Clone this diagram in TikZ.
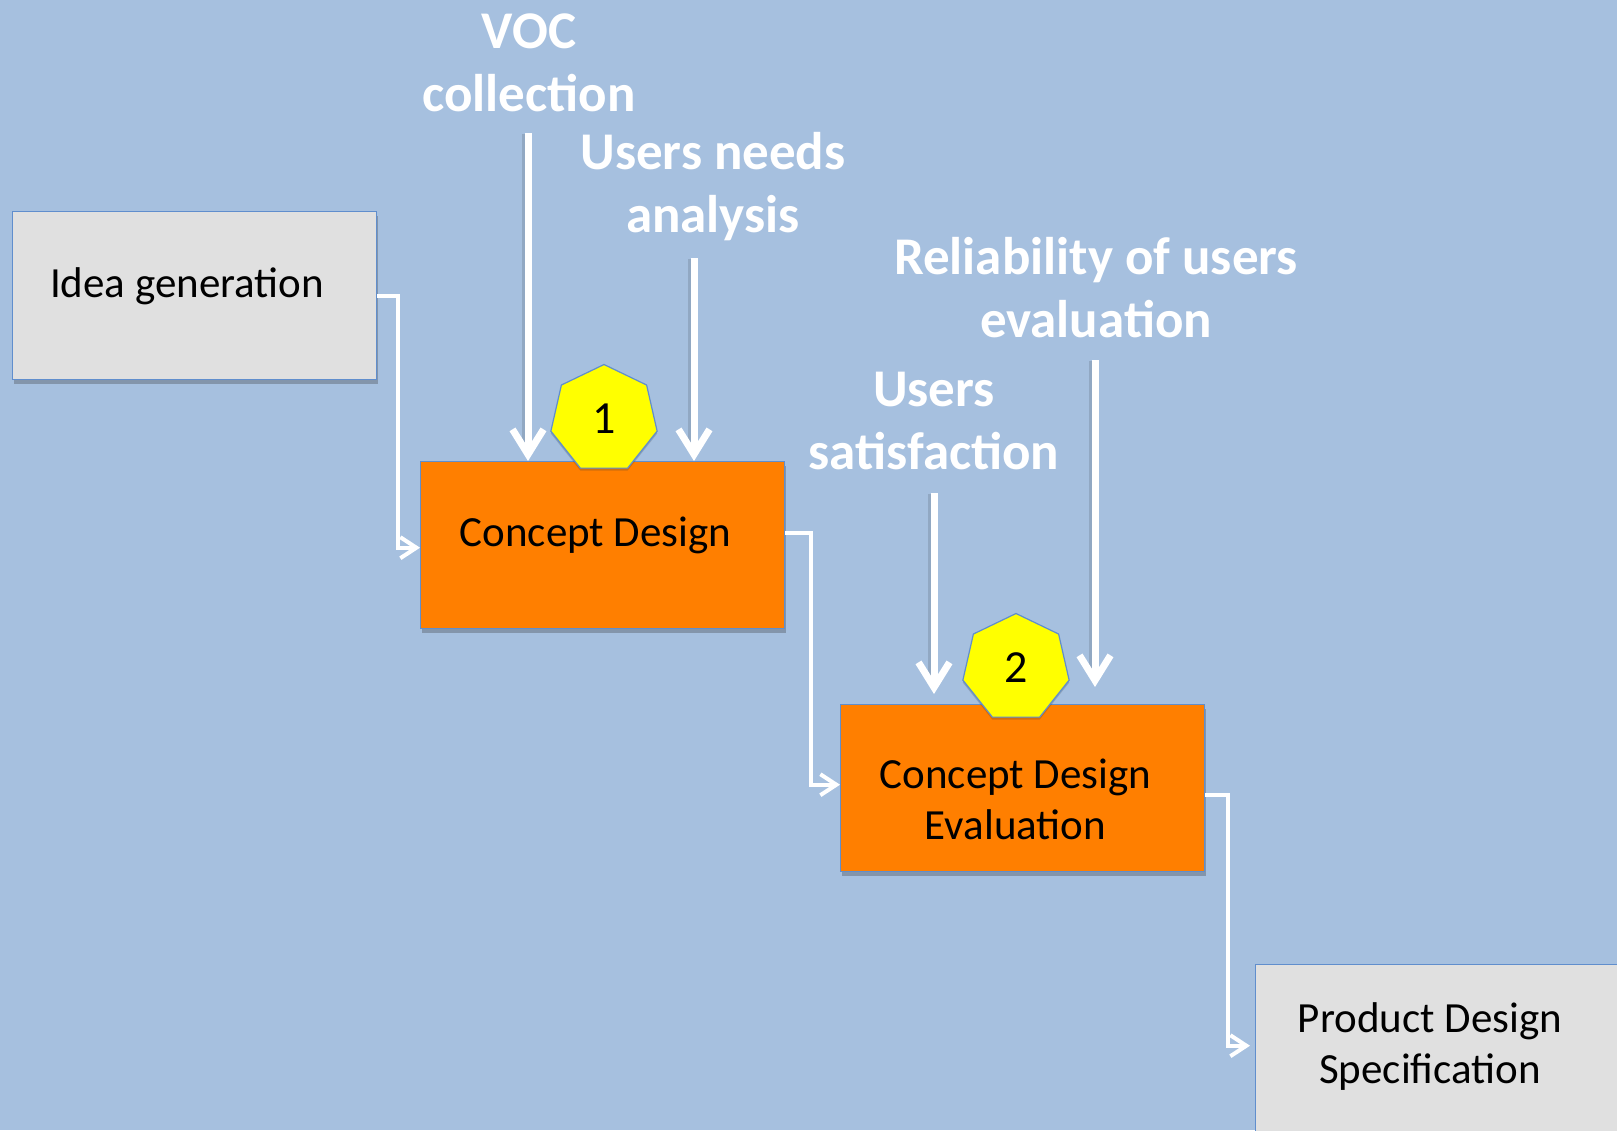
\documentclass[tikz,border=0pt]{standalone}
\usepackage{fontspec}
\setmainfont{Carlito}
\usetikzlibrary{shapes.geometric,arrows.meta,shadows}

\definecolor{bgblue}{RGB}{166,192,223}
\definecolor{boxorange}{RGB}{255,127,0}
\definecolor{boxgray}{RGB}{224,224,224}
\definecolor{edgeblue}{RGB}{96,142,205}
\definecolor{tagyellow}{RGB}{255,255,0}

\begin{document}
\begin{tikzpicture}[x=1pt,y=-1pt,
  stagebox/.style={draw=edgeblue, line width=1.4pt, inner sep=0pt,
    anchor=north west,
    drop shadow={shadow xshift=1pt, shadow yshift=-4pt, opacity=0.3, fill=black!80}},
  graybox/.style={stagebox, fill=boxgray},
  orangebox/.style={stagebox, fill=boxorange},
  boxtext/.style={font=\fontsize{43}{50.5}\selectfont, text=black, inner sep=0pt,
    align=center, anchor=base},
  inputlabel/.style={font=\fontsize{53}{63}\selectfont\bfseries, text=white,
    inner sep=0pt, align=center, anchor=base},
  tag/.style={regular polygon, regular polygon sides=7, minimum size=109pt,
    inner sep=0pt, fill=tagyellow, draw=edgeblue, line width=1.2pt,
    font=\fontsize{46}{50}\selectfont, text=black,
    drop shadow={shadow xshift=0pt, shadow yshift=-2.5pt, opacity=0.22, fill=black!80}},
  flow/.style={draw=white, line width=4pt,
    -{Straight Barb[length=16pt, width=21pt, line width=4pt]}},
  feed/.style={draw=white, line width=7pt,
    -{Straight Barb[length=25pt, width=31pt, line width=7pt]}},
  feedshade/.style={draw=black, opacity=0.12, line width=8pt},
]
\useasboundingbox (0,0) rectangle (1617,1130);
\clip (0,0) rectangle (1617,1130);
\fill[bgblue] (0,0) rectangle (1617,1130);

% process stages
\node[graybox, minimum width=364pt, minimum height=168pt] (idea) at (12,211) {};
\node[orangebox, minimum width=364pt, minimum height=167pt] (cd) at (420,461) {};
\node[orangebox, minimum width=364pt, minimum height=167pt] (ev) at (840,704) {};
\node[graybox, minimum width=420pt, minimum height=260pt] (pds) at (1255,964) {};

% stage names (the base anchor sits on the last line)
\node[boxtext] (ideatext) at (187,297) {Idea generation};
\node[boxtext] (cdtext) at (595.5,546) {Concept Design};
\node[boxtext] (evtext) at (1015.5,839) {Concept Design\\Evaluation};
\node[boxtext] (pdstext) at (1430,1083) {Product Design\\Specification};

% inputs to the stages
\node[inputlabel] (voc) at (529,111) {VOC\\collection};
\node[inputlabel] (needs) at (713,232) {Users needs\\analysis};
\node[inputlabel] (satis) at (934,469) {Users\\satisfaction};
\node[inputlabel] (relia) at (1096,337) {Reliability of users\\evaluation};

\coordinate (vocstart) at (528,133);
\coordinate (needsstart) at (694,258);
\coordinate (satisstart) at (934,493);
\coordinate (satisend) at (934,694);
\coordinate (reliastart) at (1095,360);
\coordinate (reliaend) at (1095,687);

\draw[feedshade] ([xshift=-2pt,yshift=-1pt]vocstart) -- ([xshift=-2pt,yshift=12pt]vocstart |- cd.north);
\draw[feedshade] ([xshift=-2pt,yshift=-1pt]needsstart) -- ([xshift=-2pt,yshift=12pt]needsstart |- cd.north);
\draw[feedshade] ([xshift=-2pt,yshift=-1pt]satisstart) -- ([xshift=-2pt,yshift=12pt]satisend);
\draw[feedshade] ([xshift=-2pt,yshift=-1pt]reliastart) -- ([xshift=-2pt,yshift=12pt]reliaend);

\draw[feed] (vocstart) -- (vocstart |- cd.north);
\draw[feed] (needsstart) -- (needsstart |- cd.north);
\draw[feed] (satisstart) -- (satisend);
\draw[feed] (reliastart) -- (reliaend);

% milestone markers
\node[tag] (m1) at (604,419) {1};
\node[tag] (m2) at (1016,668) {2};

% flow between stages
\draw[flow] (idea.east) -- ++(21,0) |- ([yshift=-2.5pt]cd.west);
\draw[flow] ([yshift=12.5pt]cd.east) -- ++(26,0) |- ([yshift=3.5pt]ev.west);
\draw[flow] ([yshift=-6.5pt]ev.east) -- ++(23,0) |- ([xshift=-5pt,yshift=49pt]pds.west);
\end{tikzpicture}
\end{document}
